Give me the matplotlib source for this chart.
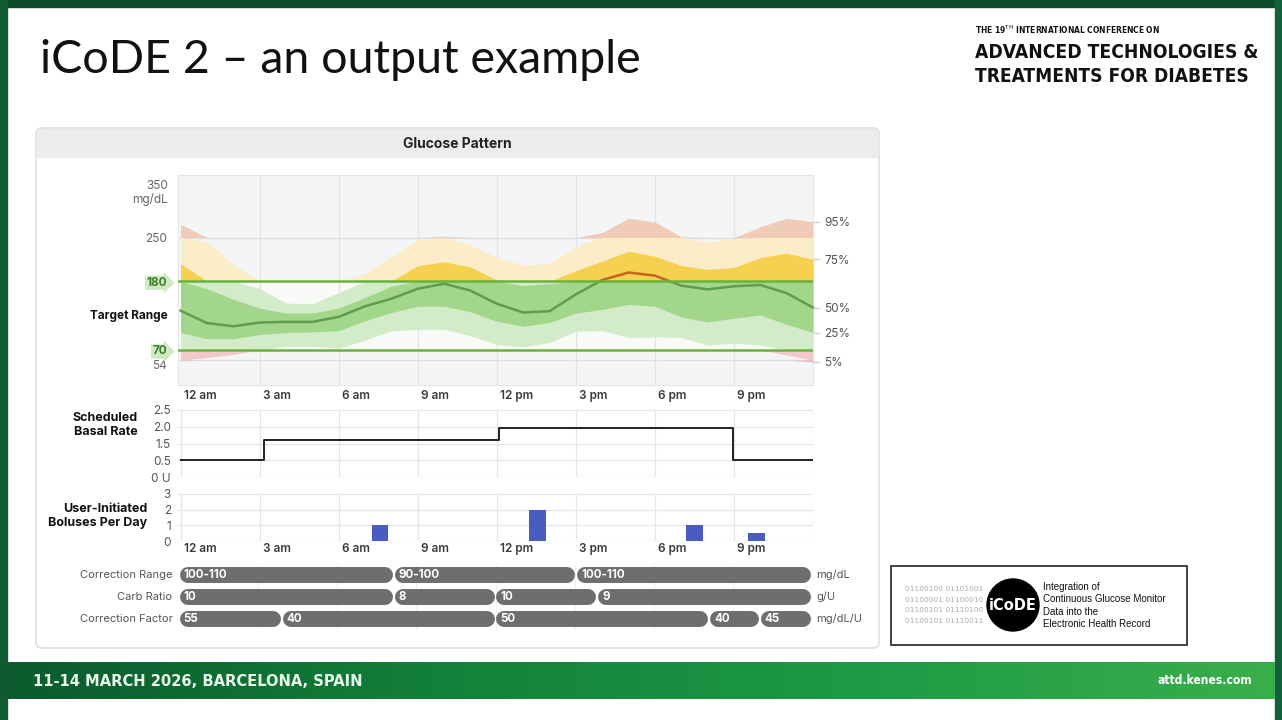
import numpy as np
import matplotlib
matplotlib.use("Agg")
import matplotlib.pyplot as plt
from matplotlib.patches import Rectangle, FancyBboxPatch, Circle
from matplotlib.colors import LinearSegmentedColormap
from matplotlib import font_manager
from matplotlib.font_manager import FontProperties
from matplotlib.transforms import blended_transform_factory, offset_copy

W, H = 1282, 720

# glucose percentiles (mg/dL), one reading per hour from 12 am to 12 am
hours = list(range(25))
p95 = [271, 243, 207, 168, 145, 144, 162, 192, 220, 246, 252, 238, 218,
       206, 208, 236, 258, 281, 275, 251, 243, 248, 267, 281, 275]
p75 = [208, 168, 151, 137, 129, 129, 137, 154, 172, 205, 211, 203, 182,
       173, 176, 197, 212, 228, 220, 205, 199, 202, 218, 225, 215]
p50 = [133, 113, 108, 114, 115, 115, 123, 140, 152, 168, 176, 165, 144,
       130, 132, 159, 182, 194, 189, 173, 167, 172, 174, 161, 138]
p25 = [98, 88, 88, 95, 98, 99, 101, 117, 130, 140, 140, 131, 116,
       108, 114, 129, 135, 143, 140, 123, 115, 121, 126, 111, 98]
p5 = [53, 58, 63, 70, 76, 76, 73, 86, 101, 103, 103, 93, 79,
      75, 82, 100, 101, 90, 91, 90, 78, 81, 78, 62, 51]
pct_labels = ['95%', '75%', '50%', '25%', '5%']

basal_times = [0, 3.15, 12.1, 20.95, 24]
basal_rates = [0.5, 1.6, 1.95, 0.5, 0.5]

bolus_times = [7.57, 13.54, 19.5, 21.86]
bolus_counts = [1, 2, 1, 0.5]

time_ticks = [0, 3, 6, 9, 12, 15, 18, 21]
time_labels = ['12 am', '3 am', '6 am', '9 am', '12 pm', '3 pm', '6 pm', '9 pm']

corr_range_starts = [0, 8.15, 15.05]
corr_range_vals = ['100-110', '90-100', '100-110']
carb_starts = [0, 8.15, 12.0, 15.85]
carb_vals = ['10', '8', '10', '9']
corr_factor_starts = [0, 3.9, 12.0, 20.1, 22.0]
corr_factor_vals = ['55', '40', '50', '40', '45']

# a condensed bold face for the conference branding, if one is installed
cond = [f for f in font_manager.fontManager.ttflist
        if ('Narrow' in f.name or 'Condensed' in f.name
            or f.stretch in ('condensed', 'semi-condensed', 'extra-condensed'))
        and f.weight in ('bold', 700)]
if cond:
    HFONT = dict(fontproperties=FontProperties(fname=cond[0].fname))
else:
    HFONT = dict(family='Roboto', fontweight='bold')
plt.rcParams['font.family'] = ['Inter', 'DejaVu Sans']

fig = plt.figure(figsize=(W / 100, H / 100), dpi=100, facecolor='white')
bg = fig.add_axes([0, 0, 1, 1])
bg.axis('off')
bg.set_xlim(0, W)
bg.set_ylim(H, 0)
renderer = fig.canvas.get_renderer()


def add_ax(x0, y0, x1, y1):
    return fig.add_axes([x0 / W, 1 - y1 / H, (x1 - x0) / W, (y1 - y0) / H])


def fit_text(x, y, s, width, fs, **kw):
    t = bg.text(x, y, s, **kw)
    t.set_fontsize(fs)
    w = t.get_window_extent(renderer=renderer).width
    t.set_fontsize(fs * width / w)
    return t


# ---- slide decoration ----
bg.add_patch(Rectangle((0, 0), W, 7, color='#0c4a2b', zorder=1))
bg.add_patch(Rectangle((0, 0), 7, H, color='#0f5a31', zorder=1))
bg.add_patch(Rectangle((1275, 0), 7, H, color='#12613a', zorder=1))
grad = np.linspace(0, 1, 256).reshape(1, -1)
band_cmap = LinearSegmentedColormap.from_list('band', ['#0b5a2d', '#138039', '#1c9a46', '#3aae4b'])
bg.imshow(grad, extent=[7, 1275, 699, 662], aspect='auto', cmap=band_cmap, zorder=1)
fit_text(33, 681, '11-14 MARCH 2026, BARCELONA, SPAIN', 332, 14, color='#eaf7ec',
         va='center', ha='left', zorder=2, **HFONT)
fit_text(1158, 681, 'attd.kenes.com', 95, 10.5, color='white', va='center', ha='left',
         zorder=2, **HFONT)

bg.text(40, 60, 'iCoDE 2 \u2013 an output example', family='Lato', fontsize=33.5,
        color='#111111', va='center', ha='left')
fit_text(975, 30, r'THE 19$^{\mathrm{TH}}$ INTERNATIONAL CONFERENCE ON', 183, 6.5,
         color='#111111', va='center', ha='left', **HFONT)
fit_text(975, 53, 'ADVANCED TECHNOLOGIES &', 283, 17, color='#111111', va='center',
         ha='left', **HFONT)
fit_text(975, 77, 'TREATMENTS FOR DIABETES', 273, 17, color='#111111', va='center',
         ha='left', **HFONT)

# iCoDE logo box
bg.add_patch(Rectangle((891, 566), 296, 79, fc='white', ec='#222222', lw=1.2, zorder=1))
binary = ['01100100 01101001', '01100001 01100010', '01100101 01110100', '01100101 01110011']
for i, b in enumerate(binary):
    bg.text(905, 589 + i * 10.7, b, fontsize=5.3, color='#aaaaaa', va='center', ha='left',
            family='DejaVu Sans')
bg.add_patch(Circle((1013, 605), 26, color='black', zorder=2))
fit_text(1013, 606, 'iCoDE', 48, 14, color='white', va='center', ha='center', zorder=3, **HFONT)
for i, t in enumerate(['Integration of', 'Continuous Glucose Monitor', 'Data into the',
                       'Electronic Health Record']):
    bg.text(1043, 587 + i * 12.3, t, fontsize=7, color='#111111', va='center', ha='left',
            family='Liberation Sans')

# ---- glucose pattern panel ----
bg.add_patch(FancyBboxPatch((36, 128), 843, 520, boxstyle='round,pad=0,rounding_size=6',
                            fc='white', ec='#e0e0e0', lw=1.2, zorder=1))
bg.add_patch(FancyBboxPatch((37, 129), 841, 29, boxstyle='round,pad=0,rounding_size=5',
                            fc='#ececec', ec='none', zorder=1))
bg.add_patch(Rectangle((37, 150), 841, 8, fc='#ececec', ec='none', zorder=1))
bg.text(457, 144, 'Glucose Pattern', fontweight='bold', fontsize=10, color='#222222',
        va='center', ha='center')

bg.set_xlim(0, W)
bg.set_ylim(H, 0)

# ---- glucose percentile chart ----
ax = add_ax(178, 175, 813, 385)
ax.set_facecolor('#f3f5f6')
ax.axhspan(70, 180, color='#f7faf6', lw=0, zorder=0)
h = np.array(hours, float)
lo5, lo25, mid, hi75, hi95 = (np.array(v, float) for v in (p5, p25, p50, p75, p95))
zones = [(0, 54), (54, 70), (70, 180), (180, 250), (250, 400)]
outer_col = ['#eeb3b3', '#f4c8c8', '#d2ebc8', '#faedc8', '#f0ccb8']
inner_col = ['#e99a9a', '#f0a8a8', '#a2d68b', '#f6d04f', '#f2b36a']
for (a, b), c in zip(zones, outer_col):
    ax.fill_between(h, np.clip(lo5, a, b), np.clip(hi95, a, b), color=c, lw=0, zorder=2)
for (a, b), c in zip(zones, inner_col):
    ax.fill_between(h, np.clip(lo25, a, b), np.clip(hi75, a, b), color=c, lw=0, zorder=3)
for (a, b), c in [((0, 180), '#5e9e4b'), ((180, 400), '#c9621c')]:
    ln, = ax.plot(h, mid, color=c, lw=1.8, zorder=4)
    ln.set_clip_path(Rectangle((-1, a), 26, b - a, transform=ax.transData))
for t in time_ticks[1:]:
    ax.axvline(t, color='#e1e4e5', lw=0.9, zorder=1)
for g in (250, 54):
    ax.axhline(g, color='#dcdfe0', lw=1, zorder=1)
ax.axhline(180, color='#6ab23e', lw=1.8, zorder=5)
ax.axhline(70, color='#6ab23e', lw=1.8, zorder=5)
ax.set_xlim(-0.1, 24)
ax.set_ylim(14, 350)
for s in ax.spines.values():
    s.set_color('#e4e7e7')
    s.set_linewidth(0.8)
ax.set_xticks([])
ax.set_yticks([54, 70, 180, 250])
ax.set_yticklabels(['54', '70', '180', '250'])
ax.tick_params(axis='y', length=0, pad=8, labelsize=8.5, labelcolor='#666666')
for lab in ax.get_yticklabels():
    if lab.get_text() in ('70', '180'):
        lab.set_color('#3d7d2c')
        lab.set_fontweight('bold')
        lab.set_bbox(dict(boxstyle='rarrow,pad=0.1', fc='#cfe9c2', ec='none'))
    elif lab.get_text() == '54':
        lab.set_va('top')
xt = ax.get_xaxis_transform()
for t, lab in zip(time_ticks, time_labels):
    ax.text(t + 0.12, -11 / 210, lab, transform=xt, fontsize=8.5, fontweight='semibold',
            color='#3a3a3a', va='center', ha='left', clip_on=False)
lt = offset_copy(blended_transform_factory(ax.transAxes, ax.transData), fig, x=-10, y=0, units='dots')
ax.text(0, 125, 'Target Range', transform=lt, fontsize=8.5, fontweight='bold', color='#111111',
        va='center', ha='right')
bg.text(168, 186, '350', fontsize=8.5, color='#666666', va='center', ha='right')
bg.text(168, 200, 'mg/dL', fontsize=8.5, color='#666666', va='center', ha='right')

ax2 = ax.twinx()
ax2.set_ylim(ax.get_ylim())
ax2.set_yticks([p95[-1], p75[-1], p50[-1], p25[-1], p5[-1]])
ax2.set_yticklabels(pct_labels)
ax2.tick_params(axis='y', length=5, width=1, color='#d0d0d0', pad=3, labelsize=8.5,
                labelcolor='#555555')
for s in ax2.spines.values():
    s.set_visible(False)

# ---- scheduled basal rate ----
basal_levels = [0, 0.5, 1.5, 2.0, 2.5]
bax = add_ax(178, 410, 813, 477)
bax.set_yscale('function', functions=(lambda v: np.interp(v, basal_levels, [0, 1, 2, 3, 4]),
                                      lambda u: np.interp(u, [0, 1, 2, 3, 4], basal_levels)))
bax.step(basal_times, basal_rates, where='post', color='#222222', lw=1.4, zorder=3)
bax.set_xlim(-0.1, 24)
bax.set_ylim(0, 2.5)
bax.set_yticks(basal_levels)
bax.set_yticklabels(['0 U', '0.5', '1.5', '2.0', '2.5'])
bax.set_xticks(time_ticks + [24])
bax.set_xticklabels([])
bax.grid(True, color='#e6e6e6', lw=0.9)
bax.tick_params(length=0, pad=5, labelsize=8.5, labelcolor='#555555')
for s in bax.spines.values():
    s.set_visible(False)
bg.text(138, 425, 'Scheduled\nBasal Rate', fontsize=9, fontweight='bold', color='#111111',
        va='center', ha='right', multialignment='right', linespacing=1.3)

# ---- boluses ----
bo = add_ax(178, 494, 813, 541)
bo.bar(bolus_times, bolus_counts, width=0.63, color='#4a5cc4', zorder=3)
bo.set_xlim(-0.1, 24)
bo.set_ylim(0, 3)
bo.set_yticks([0, 1, 2, 3])
bo.set_xticks(time_ticks + [24])
bo.set_xticklabels([])
bo.grid(True, color='#e6e6e6', lw=0.9)
bo.tick_params(length=0, pad=5, labelsize=8.5, labelcolor='#555555')
for s in bo.spines.values():
    s.set_visible(False)
bxt = bo.get_xaxis_transform()
for t, lab in zip(time_ticks, time_labels):
    bo.text(t + 0.12, -8 / 47, lab, transform=bxt, fontsize=8.5, fontweight='semibold',
            color='#3a3a3a', va='center', ha='left', clip_on=False)
bg.text(147, 516, 'User-Initiated\nBoluses Per Day', fontsize=9, fontweight='bold',
        color='#111111', va='center', ha='right', multialignment='right', linespacing=1.3)

# ---- therapy settings pills ----
pa = add_ax(178.5, 564, 812.5, 630)
pa.set_xlim(0, 24)
pa.set_ylim(0, 3)
pa.axis('off')
hpx = 634 / 24.0
rows = [(2.5, corr_range_starts, corr_range_vals, 'Correction Range', 'mg/dL'),
        (1.5, carb_starts, carb_vals, 'Carb Ratio', 'g/U'),
        (0.5, corr_factor_starts, corr_factor_vals, 'Correction Factor', 'mg/dL/U')]
for t in time_ticks[1:]:
    pa.axvline(t, color='#f0f0f0', lw=0.8, zorder=0)
cap = 8 / hpx
for y, starts, vals, name, unit in rows:
    ends = starts[1:] + [24]
    for s, e, v in zip(starts, ends, vals):
        pa.plot([s + cap + 1 / hpx, e - cap - 1 / hpx], [y, y], color='#6e6f6d', lw=11.5,
                solid_capstyle='round', zorder=2)
        pa.text(s + 5 / hpx, y, v, fontsize=8.3, fontweight='bold', color='white',
                va='center', ha='left', zorder=3)
    pa.text(-6 / hpx, y, name, fontsize=8, color='#555555', va='center', ha='right', clip_on=False)
    pa.text(24 + 4 / hpx, y, unit, fontsize=8, color='#555555', va='center', ha='left', clip_on=False)

fig.savefig('out.png', dpi=100, facecolor='white')
